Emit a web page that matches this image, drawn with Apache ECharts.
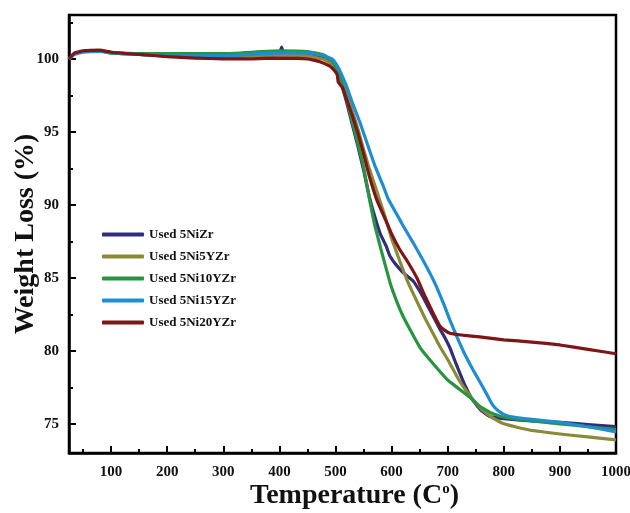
<!DOCTYPE html>
<html>
<head>
<meta charset="utf-8">
<script src="https://cdn.jsdelivr.net/npm/echarts@6/dist/echarts.min.js"></script>
<style>html,body{margin:0;padding:0;background:#fff;}#c{width:630px;height:513px;}</style>
</head>
<body>
<div id="c"></div>
<script>
const seriesNames = ['Used 5NiZr','Used 5Ni5YZr','Used 5Ni10YZr','Used 5Ni15YZr','Used 5Ni20YZr'];

const tNiZr = [25,35,50,80,100,150,200,250,300,350,400,404,408,450,480,495,503,510,520,530,540,550,560,570,580,590,597,610,625,638,650,660,675,686,695,704,715,730,745,760,775,790,800,850,900,950,1000];
const wNiZr = [100.0,100.35,100.5,100.55,100.4,100.3,100.25,100.2,100.2,100.25,100.35,100.8,100.35,100.35,100.1,99.7,99.2,98.4,97.0,95.5,94.0,92.4,90.6,89.2,88.0,87.2,86.5,85.8,85.2,84.8,84.1,83.4,82.3,81.5,80.9,80.2,79.1,77.7,76.6,75.9,75.5,75.4,75.35,75.2,75.1,74.95,74.8];

const tNi5Y = [25,35,50,80,100,150,200,300,400,450,480,495,503,510,520,530,540,550,560,579,590,600,615,627,640,660,686,700,720,740,760,780,800,825,850,900,950,1000];
const wNi5Y = [100.0,100.35,100.5,100.55,100.4,100.3,100.2,100.1,100.25,100.2,99.95,99.6,99.1,98.6,97.6,96.4,95.2,93.8,92.5,90.3,89.0,87.7,86.1,84.9,83.8,82.2,80.3,79.4,78.0,76.9,76.0,75.4,75.0,74.75,74.55,74.3,74.1,73.9];

const tNi10Y = [25,35,50,80,100,150,200,300,400,450,480,495,503,510,520,530,540,550,561,570,580,597,610,620,635,651,670,700,740,757,780,800,850,900,950,1000];
const wNi10Y = [100.0,100.35,100.5,100.55,100.45,100.35,100.35,100.35,100.55,100.5,100.25,99.8,99.2,98.5,97.2,95.7,94.2,92.6,90.3,88.6,87.1,84.7,83.3,82.4,81.3,80.2,79.3,78.0,76.8,76.2,75.7,75.45,75.2,75.0,74.8,74.6];

const tNi15Y = [25,35,50,80,100,150,200,300,400,450,480,495,505,510,520,530,544,560,570,585,594,610,620,640,656,670,680,693,704,717,730,745,757,770,780,790,800,811,850,900,950,1000];
const wNi15Y = [100.0,100.3,100.45,100.5,100.4,100.3,100.2,100.2,100.4,100.4,100.2,99.95,99.4,99.0,98.1,97.0,95.6,93.8,92.7,91.3,90.4,89.3,88.6,87.3,86.2,85.2,84.4,83.2,82.1,80.9,79.8,78.7,77.9,77.0,76.3,75.9,75.65,75.5,75.3,75.1,74.8,74.45];

const tNi20Y = [25,35,50,80,100,150,200,250,300,350,400,450,472,490,498,503,505,512,520,531,540,550,560,574,590,600,615,627,645,660,675,686,695,704,720,757,800,850,900,950,1000];
const wNi20Y = [100.0,100.4,100.55,100.6,100.45,100.3,100.15,100.05,100.0,100.0,100.05,100.0,99.8,99.5,99.2,98.9,98.4,98.05,97.2,96.0,94.9,93.5,92.0,90.3,88.9,88.0,86.9,86.2,85.0,83.7,82.5,81.7,81.4,81.2,81.1,80.95,80.75,80.6,80.4,80.1,79.8];

const xMajorTicks = [100,200,300,400,500,600,700,800,900,1000];
const xMinorTicks = [50,150,250,350,450,550,650,750,850,950];
const yMajorTicks = [75,80,85,90,95,100];
const yMinorTicks = [77.5,82.5,87.5,92.5,97.5,102.5];

const colors = ['#302d7c','#8a8a38','#27943f','#1f8dd4','#7e1517'];
const temps = [tNiZr,tNi5Y,tNi10Y,tNi15Y,tNi20Y];
const weights = [wNiZr,wNi5Y,wNi10Y,wNi15Y,wNi20Y];

const FONT = '"Liberation Serif", "Times New Roman", serif';
const chart = echarts.init(document.getElementById('c'));

const series = seriesNames.map((n,i)=>({
  name:n, type:'line', xAxisIndex:0, yAxisIndex:0,
  data: temps[i].map((t,j)=>[t, weights[i][j]]),
  showSymbol:false, symbol:'none', smooth:0.1,
  lineStyle:{color:colors[i], width:3.2, join:'round'},
  itemStyle:{color:colors[i]},
  animation:false
}));

chart.setOption({
  animation:false,
  backgroundColor:'#fff',
  grid:{left:69, right:14, top:15, bottom:60, outerBoundsMode:'none', containLabel:false,
    show:true, borderColor:'#000', borderWidth:2.5, backgroundColor:'transparent'},
  legend:{
    orient:'vertical', left:97, top:223, itemWidth:42, itemHeight:4, itemGap:9,
    icon:'roundRect',
    textStyle:{fontFamily:FONT, fontWeight:'bold', fontSize:13, color:'#111'},
    data: seriesNames
  },
  xAxis:[{
    type:'value', min:25, max:1000,
    name:'Temperature (C{sup|o})', nameLocation:'middle', nameGap:29, nameMoveOverlap:false,
    nameTextStyle:{fontFamily:FONT, fontWeight:'bold', fontSize:28, color:'#111', padding:[0,0,0,24],
      rich:{sup:{fontFamily:FONT, fontWeight:'bold', fontSize:15, color:'#111', verticalAlign:'top', padding:[0,0,10,0]}}},
    axisLine:{show:true, lineStyle:{color:'#000', width:2.5}},
    axisTick:{show:true, inside:true, length:7, lineStyle:{color:'#000', width:2}, customValues:xMajorTicks},
    axisLabel:{fontFamily:FONT, fontWeight:'bold', fontSize:15, color:'#111', margin:12, customValues:xMajorTicks,
      formatter:(v)=>String(v)},
    splitLine:{show:false}
  },{
    type:'value', min:25, max:1000, position:'bottom',
    axisLine:{show:false},
    axisTick:{show:true, inside:true, length:4, lineStyle:{color:'#000', width:2}, customValues:xMinorTicks},
    axisLabel:{show:false},
    splitLine:{show:false}
  }],
  yAxis:[{
    type:'value', min:73, max:103,
    name:'Weight Loss (%)', nameLocation:'middle', nameGap:29, nameMoveOverlap:false,
    nameTextStyle:{fontFamily:FONT, fontWeight:'bold', fontSize:28, color:'#111'},
    axisLine:{show:true, lineStyle:{color:'#000', width:2.5}},
    axisTick:{show:true, inside:true, length:7, lineStyle:{color:'#000', width:2}, customValues:yMajorTicks},
    axisLabel:{fontFamily:FONT, fontWeight:'bold', fontSize:15, color:'#111', margin:10, customValues:yMajorTicks,
      formatter:(v)=>String(v)},
    splitLine:{show:false}
  },{
    type:'value', min:73, max:103, position:'left',
    axisLine:{show:false},
    axisTick:{show:true, inside:true, length:4, lineStyle:{color:'#000', width:2}, customValues:yMinorTicks},
    axisLabel:{show:false},
    splitLine:{show:false}
  }],
  series: series
});
</script>
</body>
</html>
